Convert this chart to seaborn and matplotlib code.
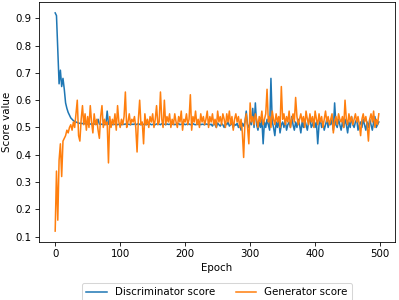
import matplotlib
matplotlib.use("Agg")
import matplotlib.pyplot as plt
import numpy as np
import pandas as pd
import seaborn as sns

epochs = np.arange(0, 500, 2)

disc_score = [
    0.92, 0.91, 0.78, 0.66, 0.71, 0.65, 0.68, 0.64, 0.59, 0.57,
    0.555, 0.545, 0.535, 0.53, 0.525, 0.522, 0.52, 0.518, 0.516, 0.515,
    0.515, 0.514, 0.516, 0.513, 0.515, 0.512, 0.514, 0.513, 0.511, 0.513,
    0.512, 0.514, 0.511, 0.53, 0.512, 0.513, 0.511, 0.512, 0.51, 0.512,
    0.56, 0.512, 0.511, 0.513, 0.51, 0.512, 0.511, 0.513, 0.51, 0.512,
    0.511, 0.51, 0.512, 0.511, 0.513, 0.51, 0.512, 0.511, 0.51, 0.512,
    0.511, 0.513, 0.51, 0.512, 0.514, 0.511, 0.51, 0.513, 0.511, 0.512,
    0.51, 0.512, 0.511, 0.513, 0.51, 0.511, 0.512, 0.51, 0.513, 0.511,
    0.512, 0.51, 0.514, 0.511, 0.512, 0.51, 0.513, 0.511, 0.512, 0.51,
    0.511, 0.513, 0.51, 0.512, 0.511, 0.514, 0.51, 0.512, 0.511, 0.513,
    0.51, 0.512, 0.511, 0.513, 0.51, 0.512, 0.514, 0.511, 0.51, 0.512,
    0.511, 0.513, 0.51, 0.512, 0.511, 0.51, 0.513, 0.511, 0.512, 0.51,
    0.512, 0.505, 0.515, 0.51, 0.50, 0.516, 0.51, 0.505, 0.514, 0.51,
    0.50, 0.515, 0.51, 0.52, 0.505, 0.51, 0.515, 0.50, 0.512, 0.508,
    0.515, 0.50, 0.51, 0.49, 0.515, 0.505, 0.52, 0.56, 0.51, 0.50,
    0.52, 0.51, 0.57, 0.50, 0.59, 0.51, 0.49, 0.52, 0.50, 0.53,
    0.44, 0.52, 0.50, 0.53, 0.51, 0.49, 0.68, 0.52, 0.50, 0.47,
    0.52, 0.50, 0.53, 0.48, 0.51, 0.52, 0.50, 0.53, 0.49, 0.51,
    0.52, 0.50, 0.54, 0.51, 0.49, 0.52, 0.50, 0.53, 0.51, 0.48,
    0.52, 0.50, 0.53, 0.51, 0.49, 0.52, 0.54, 0.50, 0.51, 0.53,
    0.50, 0.52, 0.44, 0.51, 0.53, 0.50, 0.52, 0.49, 0.51, 0.53,
    0.50, 0.52, 0.51, 0.53, 0.49, 0.59, 0.51, 0.50, 0.53, 0.51,
    0.49, 0.52, 0.50, 0.53, 0.51, 0.48, 0.52, 0.50, 0.54, 0.51,
    0.50, 0.52, 0.53, 0.49, 0.51, 0.52, 0.50, 0.53, 0.51, 0.49,
    0.52, 0.50, 0.53, 0.51, 0.49, 0.52, 0.54, 0.50, 0.51, 0.52,
]

gen_score = [
    0.12, 0.34, 0.16, 0.38, 0.44, 0.32, 0.45, 0.46, 0.47, 0.49,
    0.48, 0.50, 0.51, 0.49, 0.52, 0.50, 0.55, 0.60, 0.47, 0.45,
    0.53, 0.58, 0.51, 0.55, 0.49, 0.54, 0.50, 0.58, 0.52, 0.48,
    0.55, 0.51, 0.53, 0.49, 0.46, 0.54, 0.58, 0.50, 0.53, 0.51,
    0.52, 0.37, 0.54, 0.50, 0.53, 0.51, 0.55, 0.49, 0.58, 0.52,
    0.50, 0.53, 0.51, 0.54, 0.63, 0.50, 0.52, 0.55, 0.51, 0.53,
    0.52, 0.54, 0.50, 0.41, 0.53, 0.60, 0.51, 0.52, 0.44, 0.55,
    0.51, 0.53, 0.50, 0.54, 0.52, 0.55, 0.50, 0.53, 0.58, 0.51,
    0.52, 0.63, 0.53, 0.50, 0.60, 0.51, 0.54, 0.52, 0.55, 0.50,
    0.53, 0.51, 0.55, 0.52, 0.50, 0.54, 0.52, 0.56, 0.49, 0.53,
    0.52, 0.55, 0.51, 0.53, 0.62, 0.49, 0.54, 0.52, 0.56, 0.51,
    0.53, 0.50, 0.55, 0.52, 0.54, 0.51, 0.53, 0.56, 0.50, 0.54,
    0.52, 0.55, 0.51, 0.53, 0.50, 0.56, 0.52, 0.54, 0.51, 0.55,
    0.53, 0.50, 0.55, 0.52, 0.56, 0.51, 0.54, 0.49, 0.53, 0.55,
    0.52, 0.54, 0.50, 0.53, 0.48, 0.39, 0.52, 0.55, 0.50, 0.44,
    0.59, 0.52, 0.54, 0.51, 0.55, 0.53, 0.50, 0.54, 0.52, 0.56,
    0.51, 0.53, 0.55, 0.64, 0.52, 0.54, 0.50, 0.56, 0.53, 0.51,
    0.55, 0.52, 0.54, 0.50, 0.65, 0.53, 0.55, 0.51, 0.54, 0.52,
    0.56, 0.50, 0.53, 0.55, 0.52, 0.61, 0.54, 0.51, 0.53, 0.55,
    0.52, 0.54, 0.50, 0.56, 0.53, 0.51, 0.55, 0.52, 0.54, 0.50,
    0.56, 0.53, 0.51, 0.55, 0.52, 0.54, 0.50, 0.53, 0.56, 0.52,
    0.54, 0.51, 0.53, 0.55, 0.48, 0.52, 0.54, 0.51, 0.55, 0.53,
    0.52, 0.54, 0.50, 0.60, 0.53, 0.51, 0.55, 0.52, 0.54, 0.51,
    0.53, 0.55, 0.52, 0.54, 0.51, 0.47, 0.53, 0.55, 0.52, 0.54,
    0.51, 0.45, 0.53, 0.55, 0.52, 0.56, 0.50, 0.53, 0.51, 0.55,
]

series_names = ["Discriminator score", "Generator score"]
colors = ["#1f77b4", "#ff7f0e"]

df = pd.DataFrame({
    "Epoch": np.concatenate([epochs, epochs]),
    "Score value": disc_score + gen_score,
    "series": [series_names[0]] * len(epochs) + [series_names[1]] * len(epochs),
})

DPI = 74
fig = plt.figure(figsize=(399 / DPI, 300 / DPI), dpi=DPI)
ax = fig.add_axes([39 / 399, 58 / 300, 356 / 399, 240 / 300])

sns.lineplot(data=df, x="Epoch", y="Score value", hue="series",
             palette=colors, estimator=None, errorbar=None, ax=ax)

sns.move_legend(ax, "upper center", bbox_to_anchor=(0.5, -0.15),
                ncol=2, title=None, frameon=True)

fig.savefig("out.png", dpi=DPI)
